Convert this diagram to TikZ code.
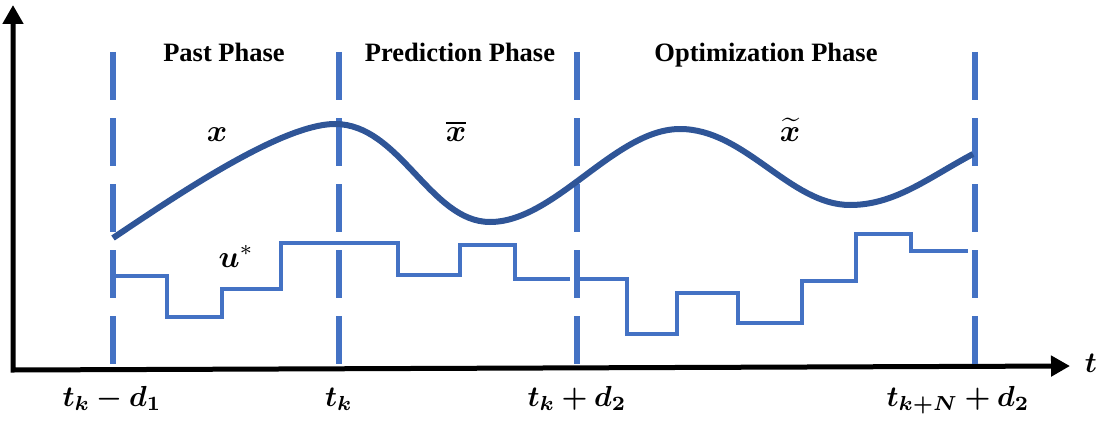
\documentclass[tikz,border=0pt]{standalone}
\usepackage{amsmath,bm}
\usepackage{fontspec}
\newfontfamily\phasefont{Liberation Serif}
\usetikzlibrary{arrows.meta}
\definecolor{dashblue}{HTML}{4472C4}
\definecolor{stepblue}{HTML}{4472C4}
\definecolor{curveblue}{HTML}{2F5597}
\tikzset{
  axisline/.style={line width=5pt, black, line join=miter,
    {Triangle[length=19pt,width=20pt]}-{Triangle[length=19pt,width=20pt]}},
  phaseline/.style={line width=6pt, dashblue, dash pattern=on 48pt off 18pt},
  statecurve/.style={line width=6pt, curveblue, line cap=butt},
  steppath/.style={line width=3.2pt, stepblue, line join=miter},
  phaselabel/.style={anchor=base, inner sep=0pt, font=\phasefont\bfseries\fontsize{26.5}{30}\selectfont},
  mathlabel/.style={anchor=base, inner sep=0pt, scale=3.1},
  ticklabel/.style={anchor=base, inner sep=0pt, scale=2.9},
}
\begin{document}
\begin{tikzpicture}[x=1pt, y=-1pt]
\useasboundingbox (0,0) rectangle (1107,420);

% axes
\coordinate (ytip) at (13,5);
\coordinate (origin) at (13,370);
\coordinate (xtip) at (1070,366);
\draw[axisline] (ytip) -- (origin) -- (xtip);
\node[ticklabel] (tlab) at (1091,372) {$\bm{t}$};

% phase boundaries
\foreach \n/\x in {a/113, b/339, c/577, d/975}{
  \coordinate (\n top) at (\x,52);
  \coordinate (\n bot) at (\x,366);
  \draw[phaseline] (\n top) -- (\n bot);
}

% phase labels
\node[phaselabel] (past) at (224,62) {Past Phase};
\node[phaselabel] (pred) at (460,62) {Prediction Phase};
\node[phaselabel] (opt) at (766,62) {Optimization Phase};

% state trajectory
\coordinate (s0) at (113,238);
\coordinate (s1) at (335,124);
\coordinate (s2) at (490,222);
\coordinate (s3) at (680,129);
\coordinate (s4) at (850,205);
\coordinate (s5) at (973,154);
\draw[statecurve] (s0) .. controls (170,200) and (280,124) .. (s1)
  .. controls (400,124) and (430,222) .. (s2)
  .. controls (555,222) and (615,129) .. (s3)
  .. controls (745,129) and (790,205) .. (s4)
  .. controls (895,205) and (928,178) .. (s5);

% control input
\draw[steppath] (113,276) -- (167,276) -- (167,317) -- (222,317) -- (222,289)
  -- (281,289) -- (281,243) -- (398,243) -- (398,275) -- (460,275) -- (460,245)
  -- (515,245) -- (515,279) -- (570,279);
\draw[steppath] (580,279) -- (627,279) -- (627,334) -- (677,334) -- (677,293)
  -- (738,293) -- (738,323) -- (802,323) -- (802,281) -- (856,281) -- (856,234)
  -- (911,234) -- (911,251) -- (968,251);

% variable labels
\node[mathlabel] (xlab) at (217,141) {$\bm{x}$};
\node[mathlabel] (xbar) at (456,141) {$\bm{\overline{x}}$};
\node[mathlabel] (xtil) at (790,141) {$\bm{\widetilde{x}}$};
\node[mathlabel, anchor=base west] (ulab) at (218,267) {$\bm{u}^{*}$};

% time labels
\node[ticklabel] (t1) at (112,406) {$\bm{t_k - d_1}$};
\node[ticklabel] (t2) at (339,406) {$\bm{t_k}$};
\node[ticklabel] (t3) at (577,406) {$\bm{t_k + d_2}$};
\node[ticklabel] (t4) at (958,406) {$\bm{t_{k+N} + d_2}$};
\end{tikzpicture}
\end{document}
